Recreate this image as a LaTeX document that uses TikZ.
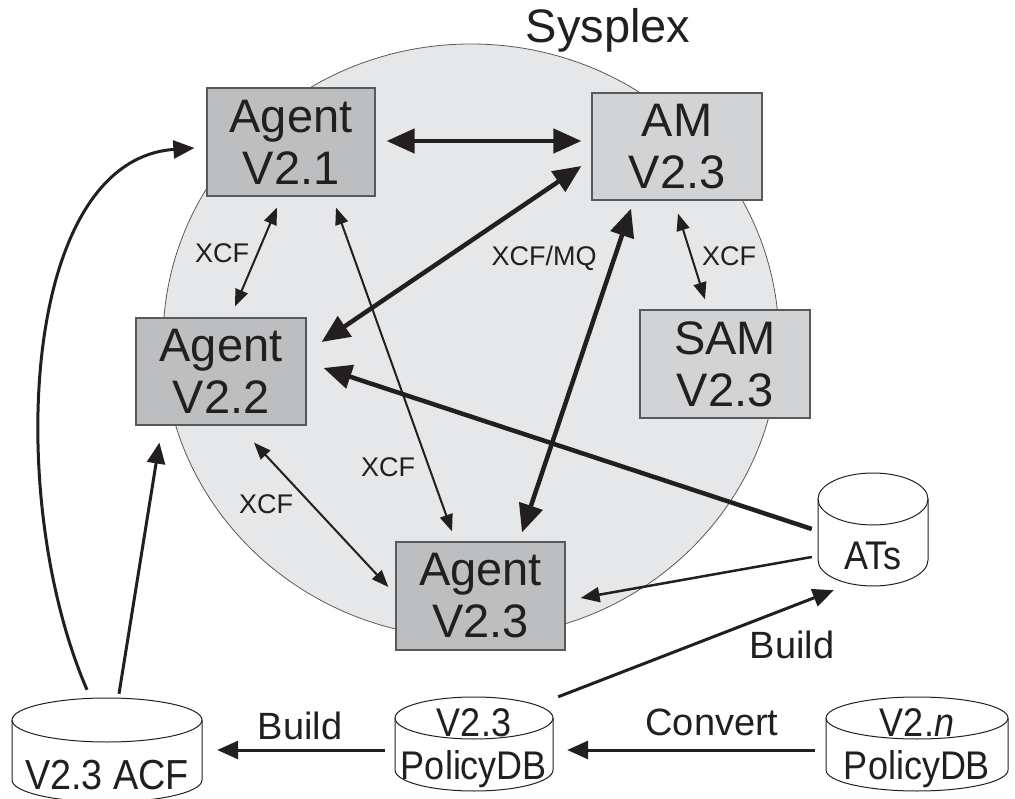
\documentclass[tikz,border=0pt]{standalone}
\usepackage{fontspec}
\setmainfont{Liberation Sans}
\newfontfamily\cylfont[FakeStretch=0.9]{Liberation Sans}
\usetikzlibrary{arrows.meta,calc}
\definecolor{ink}{HTML}{231F20}
\definecolor{sysfill}{HTML}{E6E7E8}
\definecolor{agentfill}{HTML}{BCBEC0}
\definecolor{amfill}{HTML}{D1D3D4}
\definecolor{edgecol}{HTML}{58595B}
\newcommand{\cylshape}[5]{% cx, ytop, ybot, rx, ry
  \fill[white] (#1,#3) ellipse [x radius=#4, y radius=#5];
  \fill[white] (#1-#4,#2) rectangle (#1+#4,#3);
  \draw[cylline] (#1,#2) ellipse [x radius=#4, y radius=#5];
  \draw[cylline] (#1-#4,#2) -- (#1-#4,#3) arc [start angle=180, end angle=0, x radius=#4, y radius=#5] -- (#1+#4,#2);
}
\begin{document}
\begin{tikzpicture}[x=1pt,y=-1pt,
  box/.style={draw=edgecol, line width=1.2pt, inner sep=0pt, align=center,
    minimum width=169pt, minimum height=107pt, text=ink,
    font=\fontsize{47}{52}\selectfont},
  agentbox/.style={box, fill=agentfill},
  ambox/.style={box, fill=amfill},
  cylline/.style={draw=ink, line width=1pt},
  cylarea/.style={inner sep=0pt},
  cyltext/.style={text=ink, inner sep=0pt, align=center, font=\cylfont\fontsize{40}{43}\selectfont},
  lbl/.style={text=ink, inner sep=0pt, font=\fontsize{27}{30}\selectfont},
  biglbl/.style={text=ink, inner sep=0pt, font=\fontsize{38}{42}\selectfont},
  thickarr/.style={draw=ink, line width=4.5pt, -{Triangle[length=28pt,width=24pt]}},
  thickdbl/.style={draw=ink, line width=4.5pt, {Triangle[length=28pt,width=24pt]}-{Triangle[length=28pt,width=24pt]}},
  medarr/.style={draw=ink, line width=3pt, -{Triangle[length=21pt,width=18pt]}},
  thinarr/.style={draw=ink, line width=2.5pt, -{Triangle[length=19pt,width=15pt]}},
  thindbl/.style={draw=ink, line width=2pt, {Triangle[length=17pt,width=13pt]}-{Triangle[length=17pt,width=13pt]}}
]
\useasboundingbox (0,0) rectangle (1015,799);

% Sysplex area
\fill[sysfill] (471,341) ellipse [x radius=308, y radius=297];
\draw[draw=edgecol, line width=0.8pt] (471,341) ellipse [x radius=308, y radius=297];
\node[text=ink, inner sep=0pt, font=\fontsize{47}{50}\selectfont] (sysplex) at (608,30) {Sysplex};

% boxes
\node[agentbox, minimum width=168pt, minimum height=108pt] (ag21) at (291,142) {Agent\\V2.1};
\node[ambox, minimum width=170pt, minimum height=107pt] (am) at (677,146.5) {AM\\V2.3};
\node[agentbox, minimum width=170pt, minimum height=107pt] (ag22) at (221,371.5) {Agent\\V2.2};
\node[ambox, minimum width=170pt, minimum height=108pt] (sam) at (725,364) {SAM\\V2.3};
\node[agentbox, minimum width=169pt, minimum height=108pt] (ag23) at (480.5,596) {Agent\\V2.3};

% cylinders
\cylshape{873}{499}{560}{55}{26}
\node[cylarea, minimum width=110pt, minimum height=113pt] (ats) at (873,529.5) {};
\node[cyltext] (atstext) at (873,556) {ATs};

\cylshape{107}{720}{780}{95}{22}
\node[cylarea, minimum width=190pt, minimum height=104pt] (acf) at (107,750) {};
\node[cyltext, font=\cylfont\fontsize{42}{45}\selectfont] (acftext) at (107,775) {V2.3 ACF};

\cylshape{474}{718}{770}{79}{21}
\node[cylarea, minimum width=158pt, minimum height=94pt] (pol23) at (474,744) {};
\node[cyltext] (pol23text) at (474,748) {V2.3\\PolicyDB};

\cylshape{917}{718}{770}{91}{21}
\node[cylarea, minimum width=182pt, minimum height=94pt] (pol2n) at (917,744) {};
\node[cyltext] (pol2ntext) at (917,748) {V2.\textit{n}\\PolicyDB};

% connectors inside the sysplex
\draw[thickdbl] ($(ag21.east)+(11,-1)$) -- ($(am.west)+(-10,-5.5)$);
\draw[thickdbl] ($(am.west)+(-10,19.5)$) -- ($(ag22.east)+(15,-29.5)$);
\draw[thindbl] ($(ag21.south)+(-14,11)$) -- ($(ag22.north)+(14,-11)$);
\draw[thindbl] ($(ag21.south)+(45,11)$) -- ($(ag23.north)+(-28.5,-10)$);
\draw[thickdbl] ($(am.south)+(-46,8)$) -- ($(ag23.north)+(41.5,-9)$);
\draw[thindbl] ($(am.south)+(1,13)$) -- ($(sam.north)+(-20,-10)$);
\draw[thindbl] ($(ag22.south)+(33,17)$) -- ($(ag23.west)+(-7,-9)$);

% from ATs
\draw[thickarr] ($(ats.west)+(-6,-0.5)$) -- ($(ag22.east)+(17,-3.5)$);
\draw[thinarr] ($(ats.west)+(-6,27.5)$) -- ($(ag23.east)+(15,2)$);

% builds and conversion
\draw[medarr] ($(pol23.north east)+(5,0)$) -- ($(ats.south west)+(16,4)$);
\draw[medarr] ($(pol2n.west)+(-11,6)$) -- ($(pol23.east)+(14,6)$);
\draw[medarr] ($(pol23.west)+(-10,6)$) -- ($(acf.east)+(15,0)$);
\draw[medarr] ($(acf.north)+(-20,-8)$) .. controls (5,500) and (20,160) .. ($(ag21.west)+(-12,6)$);
\draw[medarr] ($(acf.north)+(12,-4)$) -- ($(ag22.south west)+(24,17)$);

% labels
\node[lbl] (l1) at (222,253) {XCF};
\node[lbl] (l2) at (388,467) {XCF};
\node[lbl] (l3) at (544,258) {XCF/MQ};
\node[lbl] (l4) at (729,256) {XCF};
\node[lbl] (l5) at (266,504) {XCF};
\node[biglbl] (l6) at (792,645) {Build};
\node[biglbl] (l7) at (712,722) {Convert};
\node[biglbl] (l8) at (300,726) {Build};
\end{tikzpicture}
\end{document}
